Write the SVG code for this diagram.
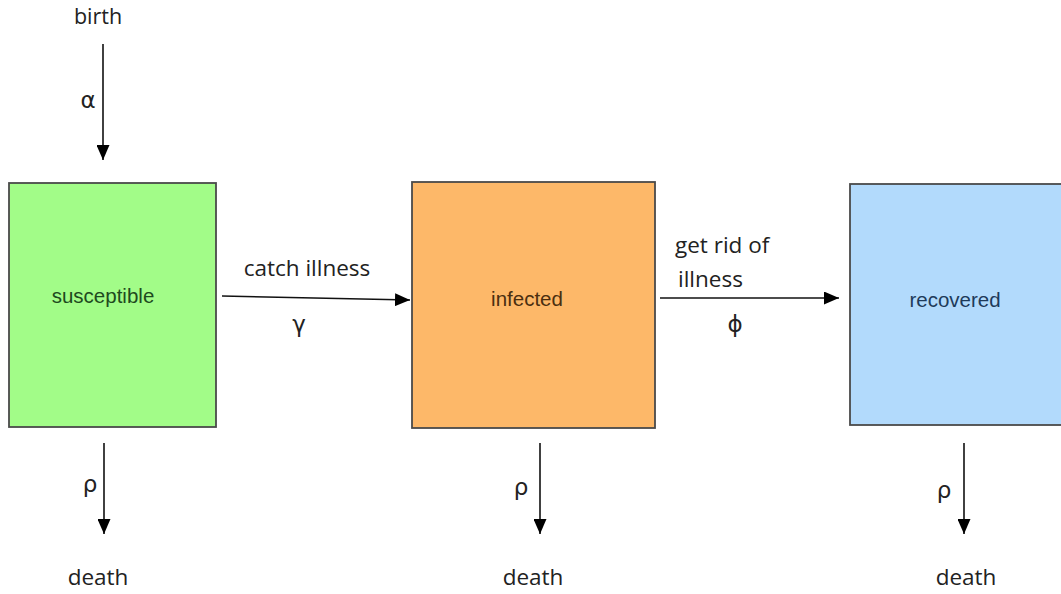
<svg xmlns="http://www.w3.org/2000/svg" width="1061" height="594" viewBox="0 0 1061 594">
<style>
.lbl{font-family:"Open Sans","DejaVu Sans",sans-serif;font-size:22.5px;fill:#222;}
.greek{font-family:"DejaVu Sans","Open Sans",sans-serif;font-size:23px;fill:#222;}
.node{font-family:"Liberation Sans",Arial,sans-serif;font-size:20.5px;text-anchor:middle;}
.box{stroke:#4a4a4a;stroke-width:1.8;}
.conn{stroke:#111;stroke-width:1.6;fill:none;}
</style>
<defs>
<marker id="ah" viewBox="0 0 15 13" refX="15" refY="6.5" markerWidth="15" markerHeight="13" markerUnits="userSpaceOnUse" orient="auto">
<path d="M0,0 L15,6.5 L0,13 Z" fill="#000"/>
</marker>
</defs>
<rect width="1061" height="594" fill="#fff"/>
<g id="susceptible">
<rect class="box" x="9" y="183" width="207" height="244" fill="#a2fc88"/>
<text class="node" x="103" y="303" fill="#1e4a1e">susceptible</text>
</g>
<g id="infected">
<rect class="box" x="412" y="182" width="243" height="246" fill="#fdb869"/>
<text class="node" x="527" y="306" fill="#4a2e10">infected</text>
</g>
<g id="recovered">
<rect class="box" x="850" y="184" width="215" height="241" fill="#b2dafc"/>
<text class="node" x="955" y="307" fill="#1e3a5a">recovered</text>
</g>
<g id="connectors">
<line class="conn" x1="103" y1="44" x2="103" y2="160" marker-end="url(#ah)"/>
<line class="conn" x1="222" y1="296" x2="410" y2="300" marker-end="url(#ah)"/>
<line class="conn" x1="660" y1="298" x2="839" y2="298" marker-end="url(#ah)"/>
<line class="conn" x1="104" y1="443" x2="104" y2="534" marker-end="url(#ah)"/>
<line class="conn" x1="540" y1="443" x2="540" y2="534" marker-end="url(#ah)"/>
<line class="conn" x1="964" y1="443" x2="964" y2="534" marker-end="url(#ah)"/>
</g>
<g id="labels">
<text class="lbl" x="98" y="24" text-anchor="middle" style="font-size:21.5px">birth</text>
<text class="greek" x="88" y="108" text-anchor="middle">α</text>
<text class="lbl" x="307" y="276" text-anchor="middle">catch illness</text>
<text class="greek" x="299" y="332" text-anchor="middle">γ</text>
<text class="lbl" x="675" y="253">get rid of</text>
<text class="lbl" x="678" y="287">illness</text>
<text class="greek" x="735" y="332" text-anchor="middle">ϕ</text>
<text class="greek" x="90" y="492" text-anchor="middle">ρ</text>
<text class="greek" x="521" y="495" text-anchor="middle">ρ</text>
<text class="greek" x="944" y="498" text-anchor="middle">ρ</text>
<text class="lbl" x="98" y="585" text-anchor="middle">death</text>
<text class="lbl" x="533" y="585" text-anchor="middle">death</text>
<text class="lbl" x="966" y="585" text-anchor="middle">death</text>
</g>
</svg>
